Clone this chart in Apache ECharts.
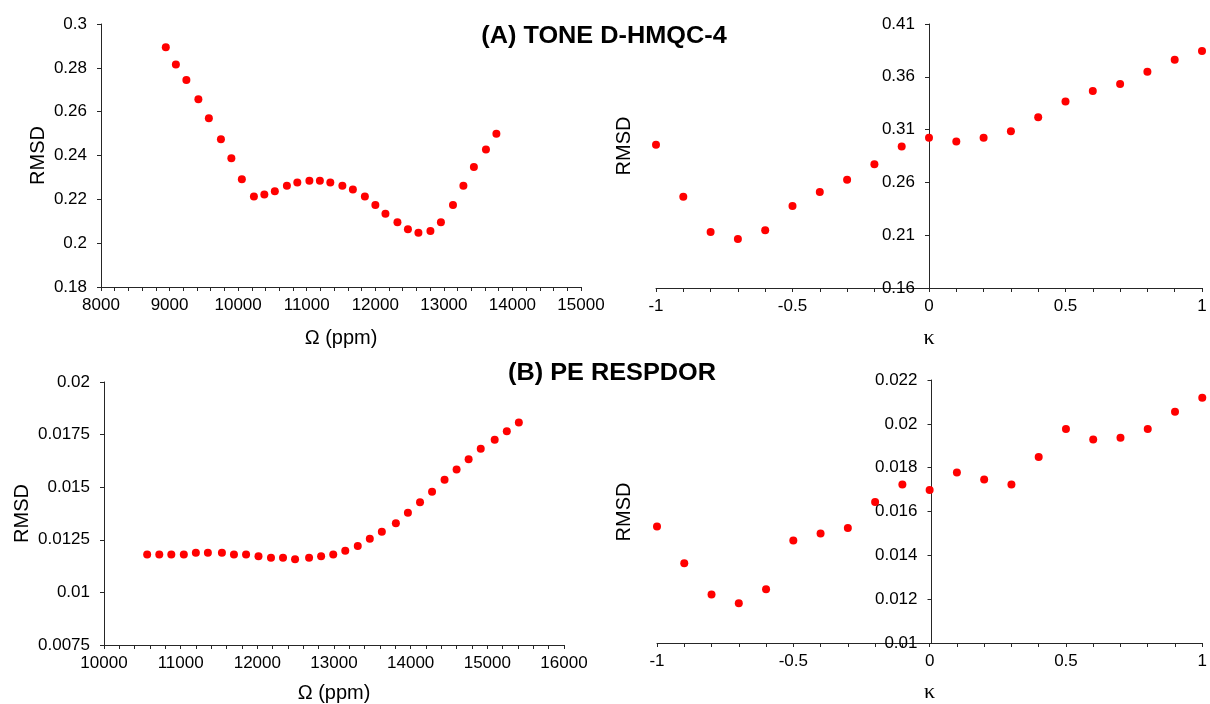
<!DOCTYPE html>
<html>
<head>
<meta charset="utf-8">
<title>RMSD vs Ω / κ</title>
<script src="https://cdn.jsdelivr.net/npm/echarts@6/dist/echarts.min.js"></script>
<style>
  html, body { margin: 0; padding: 0; background: #fff; }
  #chart { width: 1210px; height: 704px; }
</style>
</head>
<body>
<div id="chart"></div>
<script>
// (A) TONE D-HMQC-4 : RMSD vs Ω
const omegaA = [8945, 9092, 9245, 9420, 9573, 9749, 9901, 10054, 10230, 10382, 10535, 10711, 10863, 11039, 11192, 11344,
  11520, 11673, 11848, 12001, 12148, 12323, 12476, 12629, 12804, 12957, 13133, 13285, 13438, 13614, 13766]
const rmsdOmegaA = [0.2894, 0.2815, 0.2745, 0.2657, 0.2570, 0.2474, 0.2388, 0.2292, 0.2213, 0.2222, 0.2237, 0.2262, 0.2277,
  0.2285, 0.2285, 0.2277, 0.2262, 0.2245, 0.2213, 0.2174, 0.2134, 0.2095, 0.2063, 0.2048, 0.2055, 0.2095, 0.2174, 0.2262,
  0.2348, 0.2427, 0.2499]

// κ 取值（两组通用）
const kappa = [-1, -0.9, -0.8, -0.7, -0.6, -0.5, -0.4, -0.3, -0.2, -0.1, 0, 0.1, 0.2, 0.3, 0.4, 0.5, 0.6, 0.7, 0.8, 0.9, 1]
const rmsdKappaA = [0.2956, 0.2463, 0.2131, 0.2065, 0.2147, 0.2377, 0.2510, 0.2624, 0.2773, 0.2940, 0.3022, 0.2987, 0.3022,
  0.3085, 0.3218, 0.3367, 0.3465, 0.3531, 0.3648, 0.3762, 0.3844]

// (B) PE RESPDOR : RMSD vs Ω
const omegaB = [10563, 10721, 10878, 11041, 11198, 11355, 11538, 11695, 11853, 12015, 12178, 12335, 12492, 12675, 12832,
  12990, 13147, 13310, 13467, 13624, 13807, 13964, 14122, 14279, 14442, 14599, 14756, 14914, 15096, 15254, 15411]
const rmsdOmegaB = [0.01180, 0.01180, 0.01180, 0.01180, 0.01188, 0.01188, 0.01188, 0.01180, 0.01180, 0.01172, 0.01165,
  0.01165, 0.01157, 0.01165, 0.01172, 0.01180, 0.01198, 0.01221, 0.01255, 0.01288, 0.01329, 0.01378, 0.01429, 0.01478,
  0.01535, 0.01584, 0.01633, 0.01683, 0.01725, 0.01766, 0.01807]
const rmsdKappaB = [0.01532, 0.01364, 0.01221, 0.01181, 0.01245, 0.01468, 0.01500, 0.01525, 0.01643, 0.01723, 0.01698,
  0.01778, 0.01746, 0.01723, 0.01849, 0.01976, 0.01929, 0.01936, 0.01976, 0.02055, 0.02119]

// 刻度标签
const xLabelsOmegaA = [8000, 9000, 10000, 11000, 12000, 13000, 14000, 15000]
const xLabelsOmegaB = [10000, 11000, 12000, 13000, 14000, 15000, 16000]
const xLabelsKappa = [-1, -0.5, 0, 0.5, 1]
const yLabelsOmegaA = [0.18, 0.2, 0.22, 0.24, 0.26, 0.28, 0.3]
const yLabelsKappaA = [0.16, 0.21, 0.26, 0.31, 0.36, 0.41]
const yLabelsOmegaB = [0.0075, 0.01, 0.0125, 0.015, 0.0175, 0.02]
const yLabelsKappaB = [0.01, 0.012, 0.014, 0.016, 0.018, 0.02, 0.022]

const FONT = 'Liberation Sans, Arial, sans-serif'
const INK = '#000'
const AXIS_COLOR = '#262626'
const TICK_FONT = 17

// 网格布局（κ 面板的 y 轴画在 κ=0 处，即网格正中）
const GRIDS = [
  { left: 101, top: 24, width: 480, height: 263 },
  { left: 656, top: 24, width: 546, height: 264 },
  { left: 104, top: 382, width: 460, height: 264 },
  { left: 657, top: 380, width: 549, height: 263 }
]

function pairs(xs, ys) {
  return xs.map((x, i) => [x, ys[i]])
}

function xAxis(gridIndex, min, max, step, labels, name, nameGap, serif) {
  return {
    type: 'value', gridIndex, min, max, interval: step,
    axisLine: { onZero: false, lineStyle: { color: AXIS_COLOR, width: 1 } },
    axisTick: { show: true, inside: false, length: 4, lineStyle: { color: AXIS_COLOR } },
    axisLabel: {
      customValues: labels, margin: 10, color: INK, fontSize: TICK_FONT, fontFamily: FONT,
      formatter: v => String(v)
    },
    splitLine: { show: false },
    name, nameLocation: 'middle', nameGap,
    nameTextStyle: serif
      ? { color: INK, fontSize: 22, fontFamily: 'Liberation Serif, DejaVu Serif, serif' }
      : { color: INK, fontSize: 20, fontFamily: FONT }
  }
}

function yAxis(gridIndex, labels, name, nameGap, centered) {
  return {
    type: 'value', gridIndex, min: labels[0], max: labels[labels.length - 1],
    offset: centered ? -GRIDS[gridIndex].width / 2 : 0,
    axisLine: { onZero: false, lineStyle: { color: AXIS_COLOR, width: 1 } },
    axisTick: { show: true, inside: false, length: 4, customValues: labels, lineStyle: { color: AXIS_COLOR } },
    axisLabel: {
      customValues: labels, margin: 14, color: INK, fontSize: TICK_FONT, fontFamily: FONT,
      formatter: v => String(v)
    },
    splitLine: { show: false },
    name: name || '', nameLocation: 'middle', nameGap: nameGap || 0,
    nameTextStyle: { color: INK, fontSize: 20, fontFamily: FONT }
  }
}

function dots(gridIndex, data) {
  return {
    type: 'scatter', xAxisIndex: gridIndex, yAxisIndex: gridIndex, data,
    symbol: 'circle', symbolSize: 8,
    itemStyle: { color: '#ff0000', opacity: 1 },
    silent: true
  }
}

function label(text, x, y, size, bold, rotation, scaleX) {
  return {
    type: 'text', x, y, rotation: rotation || 0, scaleX: scaleX || 1,
    style: {
      text, fill: INK,
      font: (bold ? 'bold ' : '') + size + 'px ' + FONT,
      align: 'center', verticalAlign: 'middle',
      textAlign: 'center', textVerticalAlign: 'middle'
    }
  }
}

const chart = echarts.init(document.getElementById('chart'))

chart.setOption({
  animation: false,
  backgroundColor: '#fff',
  grid: GRIDS,
  xAxis: [
    xAxis(0, 8000, 15000, 200, xLabelsOmegaA, 'Ω (ppm)', 41, false),
    xAxis(1, -1, 1, 0.1, xLabelsKappa, 'κ', 39, true),
    xAxis(2, 10000, 16000, 200, xLabelsOmegaB, 'Ω (ppm)', 38, false),
    xAxis(3, -1, 1, 0.1, xLabelsKappa, 'κ', 38, true)
  ],
  yAxis: [
    yAxis(0, yLabelsOmegaA, 'RMSD', 53),
    yAxis(1, yLabelsKappaA, '', 0, true),
    yAxis(2, yLabelsOmegaB, 'RMSD', 72),
    yAxis(3, yLabelsKappaB, '', 0, true)
  ],
  series: [
    dots(0, pairs(omegaA, rmsdOmegaA)),
    dots(1, pairs(kappa, rmsdKappaA)),
    dots(2, pairs(omegaB, rmsdOmegaB)),
    dots(3, pairs(kappa, rmsdKappaB))
  ],
  graphic: [
    label('(A) TONE D-HMQC-4', 604, 37, 23, true, 0, 1.1),
    label('(B) PE RESPDOR', 612, 374, 23, true, 0, 1.1),
    label('RMSD', 624, 146, 20, false, Math.PI / 2),
    label('RMSD', 624, 512, 20, false, Math.PI / 2)
  ]
})
</script>
</body>
</html>
